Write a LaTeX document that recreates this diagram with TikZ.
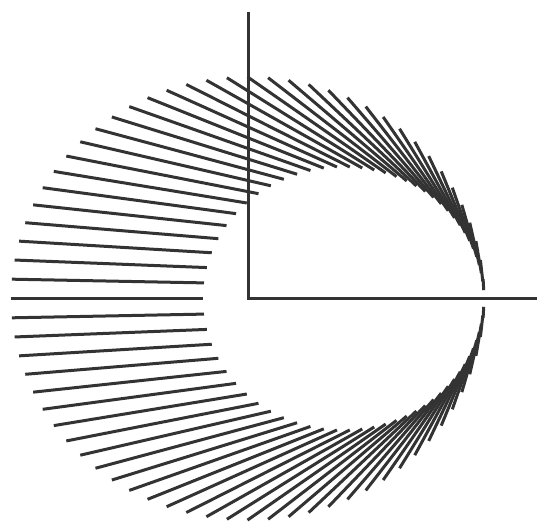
\documentclass[tikz,border=0pt]{standalone}
\definecolor{Cink}{HTML}{333333}
\begin{document}
\begin{tikzpicture}[x=1pt,y=1pt]
\useasboundingbox (0,0) rectangle (537,522);
\begin{scope}[shift={(247.5,223.5)},yscale=0.937]
	\foreach \a in {0,5,...,355}{
		\pgfmathsetmacro{\b}{acos((cos(\a)+0.3)/(1+0.3*cos(\a)))*(sin(\a)<0 ? -1 : 1)}
		\draw[Cink,line width=3pt]
		({236.5*cos(\a)},{236.5*sin(\a)})--({96+140.5*cos(\b)},{140.5*sin(\b)});
	}
\end{scope}
\draw[Cink,line width=3.6pt]
(248.5,510)--(248.5,223.5)--(537,223.5);
\end{tikzpicture}
\end{document}
